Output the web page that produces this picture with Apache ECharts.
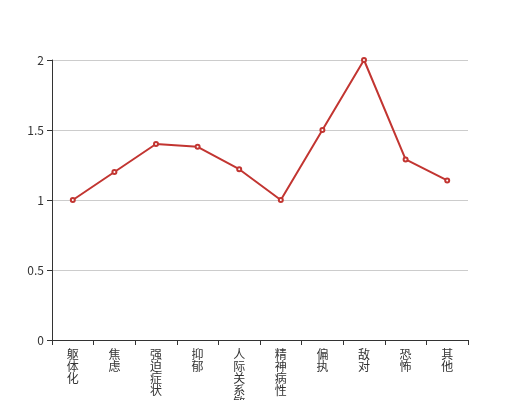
<!DOCTYPE html>
<html>
<head>
<meta charset="utf-8">
<script src="https://cdn.jsdelivr.net/npm/echarts@6/dist/echarts.min.js"></script>
<style>
  html, body { margin: 0; padding: 0; background: #fff; }
  #chart { width: 520px; height: 400px; }
</style>
</head>
<body>
<div id="chart"></div>
<script>
var categories = ['躯体化', '焦虑', '强迫症状', '抑郁', '人际关系敏感', '精神病性', '偏执', '敌对', '恐怖', '其他'];
var values = [1.0, 1.2, 1.4, 1.38, 1.22, 1.0, 1.5, 2.0, 1.29, 1.14];

var myChart = echarts.init(document.getElementById('chart'));
var option = {
  animation: false,
  textStyle: { fontFamily: '"Noto Sans CJK SC", sans-serif' },
  grid: { left: 52, right: 52, top: 60, bottom: 60, containLabel: false, outerBoundsMode: 'none' },
  xAxis: {
    type: 'category',
    data: categories,
    axisLine: { lineStyle: { color: '#333' } },
    axisTick: { show: true, lineStyle: { color: '#333' } },
    axisLabel: {
      color: '#333',
      fontSize: 12,
      lineHeight: 12,
      interval: 0,
      formatter: function (v) { return v.split('').join('\n'); }
    }
  },
  yAxis: {
    type: 'value',
    min: 0,
    max: 2,
    interval: 0.5,
    axisLine: { show: true, lineStyle: { color: '#333' } },
    axisTick: { show: true, lineStyle: { color: '#333' } },
    axisLabel: { color: '#333', fontSize: 12 },
    splitLine: { lineStyle: { color: '#ccc' } }
  },
  series: [{
    type: 'line',
    data: values,
    symbol: 'emptyCircle',
    symbolSize: 4,
    itemStyle: { color: '#c23531' },
    lineStyle: { color: '#c23531', width: 2 }
  }]
};
myChart.setOption(option);
</script>
</body>
</html>
